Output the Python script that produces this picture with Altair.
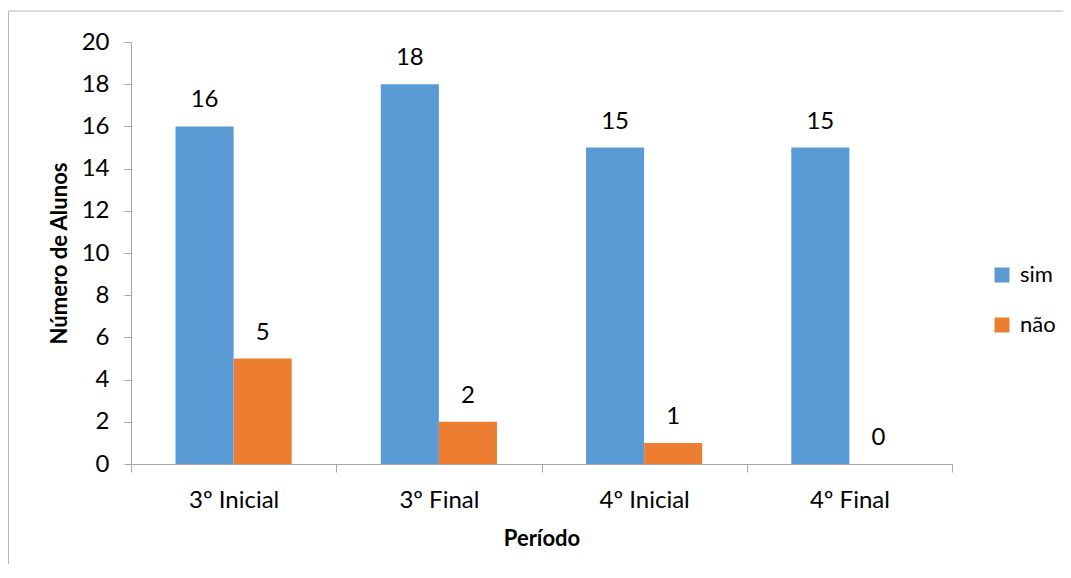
import altair as alt
import pandas as pd

categories = ["3º Inicial", "3º Final", "4º Inicial", "4º Final"]
series = ["sim", "não"]
sim_values = [16, 18, 15, 15]
nao_values = [5, 2, 1, 0]
y_ticks = list(range(0, 21, 2))
colors = ["#5B9BD5", "#ED7D31"]

rows = []
for c, s, n in zip(categories, sim_values, nao_values):
    rows.append({"Período": c, "serie": "sim", "valor": s})
    rows.append({"Período": c, "serie": "não", "valor": n})
df = pd.DataFrame(rows)

FONT = "Lato"
AX = "#a6a6a6"

x = alt.X("Período:N", sort=categories,
          scale=alt.Scale(paddingInner=0, paddingOuter=0),
          axis=alt.Axis(title="Período", labelAngle=0, tickBand="extent",
                        tickSize=8, labelPadding=16, titlePadding=16,
                        domainColor=AX, tickColor=AX))
xoff = alt.XOffset("serie:N", sort=series,
                   scale=alt.Scale(paddingInner=0, paddingOuter=0.767))
y = alt.Y("valor:Q", scale=alt.Scale(domain=[0, 20]),
          axis=alt.Axis(values=y_ticks, grid=False, title="Número de Alunos",
                        tickSize=7, labelPadding=15, titlePadding=10,
                        domainColor=AX, tickColor=AX))
color = alt.Color("serie:N", sort=series,
                  scale=alt.Scale(domain=series, range=colors),
                  legend=alt.Legend(title=None, orient="none", legendX=860, legendY=222,
                                    symbolType="square", symbolSize=225,
                                    symbolStrokeWidth=0, labelFontSize=22,
                                    labelFont=FONT, labelColor="black",
                                    labelOffset=7, rowPadding=28, padding=0))

border = alt.Chart(pd.DataFrame({"a": [0]})).mark_rect(
    fill="white", fillOpacity=0, stroke="#b8b8b8", strokeWidth=1
).encode(x=alt.value(-122.5), x2=alt.value(1000), y=alt.value(-31), y2=alt.value(600))

bars = alt.Chart(df).mark_bar().encode(x=x, xOffset=xoff, y=y, color=color)
labels = alt.Chart(df).mark_text(baseline="middle", dy=-26, fontSize=24, font=FONT,
                                 color="black").encode(
    x=x, xOffset=xoff, y=y, text="valor:Q")

chart = alt.layer(border, bars, labels).properties(
    width=821, height=422, autosize="none",
    padding={"left": 123, "top": 34, "right": 111, "bottom": 100},
).configure_view(stroke=None).configure_axis(
    labelFont=FONT, labelFontSize=24, labelColor="black",
    titleFont=FONT, titleFontSize=22, titleFontWeight="bold", titleColor="black",
)

chart.save("out.html", embed_options={"renderer": "svg", "actions": False})
